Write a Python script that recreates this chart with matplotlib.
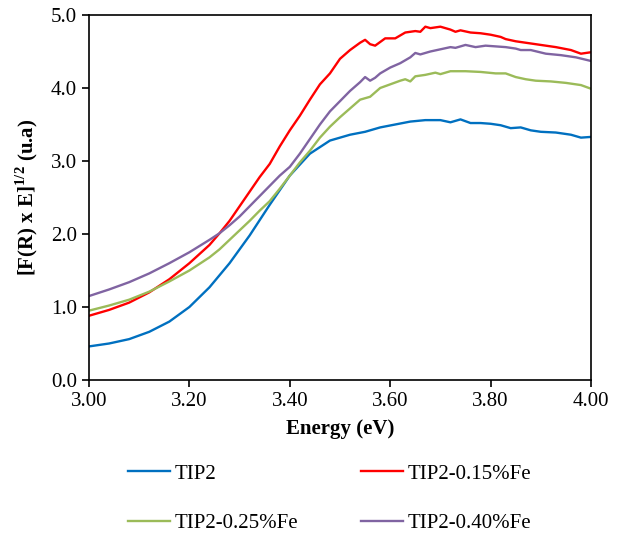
import matplotlib
matplotlib.use("Agg")
import matplotlib.pyplot as plt

plt.rcParams['font.family'] = ['Liberation Serif', 'DejaVu Serif']
plt.rcParams['mathtext.fontset'] = 'custom'
plt.rcParams['mathtext.rm'] = 'Liberation Serif'
plt.rcParams['mathtext.bf'] = 'Liberation Serif:bold'

# TIP2
x_tip2 = [3.00, 3.04, 3.08, 3.12, 3.16, 3.20, 3.24, 3.28, 3.32, 3.36, 3.40, 3.44, 3.48,
          3.52, 3.55, 3.58, 3.61, 3.64, 3.67, 3.70, 3.72, 3.74, 3.76, 3.78, 3.80, 3.82,
          3.84, 3.86, 3.88, 3.90, 3.93, 3.96, 3.98, 4.00]
y_tip2 = [0.46, 0.50, 0.56, 0.66, 0.80, 1.00, 1.27, 1.60, 1.98, 2.40, 2.80, 3.10, 3.28,
          3.36, 3.40, 3.46, 3.50, 3.54, 3.56, 3.56, 3.53, 3.57, 3.52, 3.52, 3.51, 3.49,
          3.45, 3.46, 3.42, 3.40, 3.39, 3.36, 3.32, 3.33]

# TIP2-0.15%Fe
x_fe15 = [3.00, 3.04, 3.08, 3.12, 3.16, 3.20, 3.24, 3.26, 3.28, 3.30, 3.32, 3.34, 3.36,
          3.38, 3.40, 3.42, 3.44, 3.46, 3.48, 3.50, 3.52, 3.54, 3.55, 3.56, 3.57, 3.59,
          3.61, 3.63, 3.65, 3.66, 3.67, 3.68, 3.70, 3.72, 3.73, 3.74, 3.76, 3.78, 3.80,
          3.82, 3.83, 3.85, 3.87, 3.90, 3.93, 3.96, 3.98, 4.00]
y_fe15 = [0.88, 0.96, 1.06, 1.20, 1.38, 1.60, 1.85, 2.01, 2.18, 2.38, 2.58, 2.78, 2.96,
          3.20, 3.42, 3.62, 3.84, 4.05, 4.20, 4.40, 4.52, 4.62, 4.66, 4.60, 4.58, 4.68,
          4.68, 4.76, 4.78, 4.77, 4.84, 4.82, 4.84, 4.80, 4.77, 4.79, 4.76, 4.75, 4.73,
          4.70, 4.67, 4.64, 4.62, 4.59, 4.56, 4.52, 4.47, 4.49]

# TIP2-0.25%Fe
x_fe25 = [3.00, 3.04, 3.08, 3.12, 3.16, 3.20, 3.24, 3.26, 3.28, 3.30, 3.32, 3.34, 3.36,
          3.38, 3.40, 3.42, 3.44, 3.46, 3.48, 3.50, 3.52, 3.54, 3.56, 3.58, 3.60, 3.62,
          3.63, 3.64, 3.65, 3.67, 3.69, 3.70, 3.72, 3.75, 3.78, 3.81, 3.83, 3.85, 3.87,
          3.89, 3.92, 3.95, 3.98, 4.00]
y_fe25 = [0.95, 1.02, 1.10, 1.21, 1.35, 1.50, 1.68, 1.79, 1.92, 2.05, 2.18, 2.32, 2.45,
          2.62, 2.80, 2.98, 3.14, 3.32, 3.47, 3.60, 3.72, 3.84, 3.88, 4.00, 4.05, 4.10,
          4.12, 4.09, 4.16, 4.18, 4.21, 4.19, 4.23, 4.23, 4.22, 4.20, 4.20, 4.15, 4.12,
          4.10, 4.09, 4.07, 4.04, 3.99]

# TIP2-0.40%Fe
x_fe40 = [3.00, 3.04, 3.08, 3.12, 3.16, 3.20, 3.24, 3.26, 3.28, 3.30, 3.32, 3.34, 3.36,
          3.38, 3.40, 3.42, 3.44, 3.46, 3.48, 3.50, 3.52, 3.54, 3.55, 3.56, 3.57, 3.58,
          3.60, 3.62, 3.64, 3.65, 3.66, 3.68, 3.70, 3.72, 3.73, 3.75, 3.77, 3.79, 3.81,
          3.83, 3.85, 3.86, 3.88, 3.91, 3.94, 3.97, 4.00]
y_fe40 = [1.15, 1.24, 1.34, 1.46, 1.60, 1.75, 1.92, 2.01, 2.12, 2.24, 2.38, 2.52, 2.66,
          2.80, 2.92, 3.10, 3.30, 3.50, 3.68, 3.82, 3.96, 4.08, 4.15, 4.10, 4.14, 4.20,
          4.28, 4.34, 4.42, 4.48, 4.46, 4.50, 4.53, 4.56, 4.55, 4.59, 4.56, 4.58, 4.57,
          4.56, 4.54, 4.52, 4.52, 4.47, 4.45, 4.42, 4.37]

labels = ['TIP2', 'TIP2-0.15%Fe', 'TIP2-0.25%Fe', 'TIP2-0.40%Fe']
colors = ['#0070C0', '#FF0000', '#9BBB59', '#8064A2']

fig = plt.figure(figsize=(6.21, 5.36), dpi=100)
ax = fig.add_axes([89/621, 1-380/536, (591-89)/621, (380-15)/536])

l1, = ax.plot(x_tip2, y_tip2, color=colors[0], lw=1.7, label=labels[0])
l2, = ax.plot(x_fe15, y_fe15, color=colors[1], lw=1.7, label=labels[1])
l3, = ax.plot(x_fe25, y_fe25, color=colors[2], lw=1.7, label=labels[2])
l4, = ax.plot(x_fe40, y_fe40, color=colors[3], lw=1.7, label=labels[3])

ax.set_xlim(3.0, 4.0)
ax.set_ylim(0.0, 5.0)
ax.set_xticks([3.0, 3.2, 3.4, 3.6, 3.8, 4.0])
ax.set_xticklabels(['3.00', '3.20', '3.40', '3.60', '3.80', '4.00'])
ax.set_yticks([0, 1, 2, 3, 4, 5])
ax.set_yticklabels(['0.0', '1.0', '2.0', '3.0', '4.0', '5.0'])
ax.tick_params(labelsize=15, direction='out', length=5, width=1.2, colors='black')
for s in ax.spines.values():
    s.set_linewidth(1.2)

ax.set_xlabel('Energy (eV)', fontsize=15, fontweight='bold', labelpad=6)
ax.set_ylabel(r'[F(R) x E]$^{\mathbf{1/2}}$ (u.a)', fontsize=15, fontweight='bold', labelpad=8)

# legend row by row
fig.legend([l1, l3, l2, l4], [labels[0], labels[2], labels[1], labels[3]],
           ncol=2, loc='upper left', bbox_to_anchor=(128/621, 1-464/536),
           frameon=False, fontsize=15, handlelength=2.0, handletextpad=0.25,
           columnspacing=3.0, labelspacing=1.45, borderpad=0, borderaxespad=0)

fig.savefig('out.png', dpi=100)
